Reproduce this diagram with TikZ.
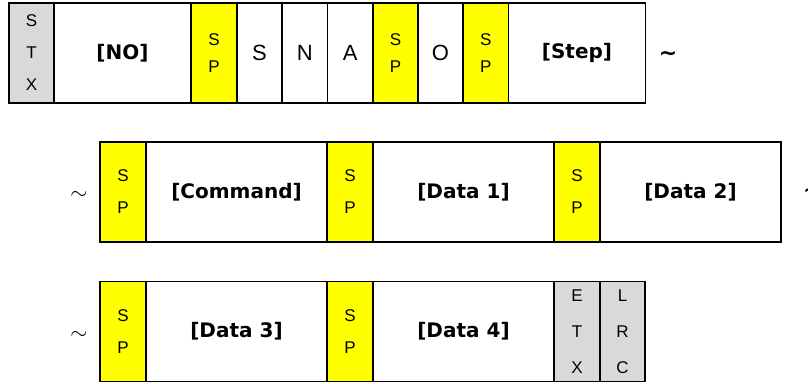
\documentclass[tikz,border=0pt]{standalone}
\usepackage{fontspec}
\setmainfont{Liberation Sans}
\newfontfamily\labfont{DejaVu Sans}
\definecolor{spyellow}{HTML}{FFFF00}
\definecolor{ctlgray}{HTML}{D9D9D9}
\newcommand\cellbox[6]{%
  \node[cellfr,#5,minimum width={(#3-#2)*1pt}] (#1) at ({(#2+#3)/2},{#4+50}) {#6};}
\newcommand\wave{\char"223C}
\newcommand\thinwave{\scalebox{2.2}{$\sim$}}
\begin{document}
\begin{tikzpicture}[x=1pt,y=-1pt,
  cellfr/.style={draw=black,line width=1.5pt,minimum height=100pt,inner sep=0pt,align=center},
  sp/.style={fill=spyellow,font={\fontsize{17}{32}\selectfont}},
  sp1/.style={fill=spyellow,font={\fontsize{17}{27}\selectfont}},
  ctl/.style={fill=ctlgray,font={\fontsize{17}{32}\selectfont}},
  ctl3/.style={fill=ctlgray,font={\fontsize{17}{36}\selectfont}},
  chr/.style={fill=white,font={\fontsize{22}{24}\selectfont}},
  lab/.style={fill=white,font={\labfont\bfseries\fontsize{20}{22}\selectfont}},
  tild/.style={inner sep=0pt},
  tildb/.style={inner sep=0pt,font={\labfont\bfseries\fontsize{22}{22}\selectfont}}]
\useasboundingbox (0,0) rectangle (808,383);
% row 1
\cellbox{stx}{9}{54}{3}{ctl}{S\\T\\X}
\cellbox{no}{54}{191}{3}{lab}{[NO]}
\cellbox{spa}{191}{237}{3}{sp1}{S\\P}
\cellbox{s}{237}{282}{3}{chr}{S}
\cellbox{n}{282}{327.5}{3}{chr}{N}
\cellbox{a}{327.5}{373}{3}{chr}{A}
\cellbox{spb}{373}{418}{3}{sp1}{S\\P}
\cellbox{o}{418}{463}{3}{chr}{O}
\cellbox{spc}{463}{508.5}{3}{sp1}{S\\P}
\cellbox{step}{508.5}{645.5}{3}{lab}{[Step]}
\node[tildb] (t1) at (668,56) {\wave};
% row 2
\node[tild] (t2) at (79,195) {\thinwave};
\cellbox{spd}{100}{146}{142}{sp}{S\\P}
\cellbox{cmd}{146}{327}{142}{lab}{[Command]}
\cellbox{spe}{327}{373}{142}{sp}{S\\P}
\cellbox{d1}{373}{554}{142}{lab}{[Data 1]}
\cellbox{spf}{554}{600}{142}{sp}{S\\P}
\cellbox{d2}{600}{781}{142}{lab}{[Data 2]}
\node[tildb,anchor=west] (t3) at (803,193) {\wave};
% row 3
\node[tild] (t4) at (79,335) {\thinwave};
\cellbox{spg}{100}{146}{281.5}{sp}{S\\P}
\cellbox{d3}{146}{327}{281.5}{lab}{[Data 3]}
\cellbox{sph}{327}{373}{281.5}{sp}{S\\P}
\cellbox{d4}{373}{554}{281.5}{lab}{[Data 4]}
\cellbox{etx}{554}{600}{281.5}{ctl3}{E\\T\\X}
\cellbox{lrc}{600}{645}{281.5}{ctl3}{L\\R\\C}
\end{tikzpicture}
\end{document}
